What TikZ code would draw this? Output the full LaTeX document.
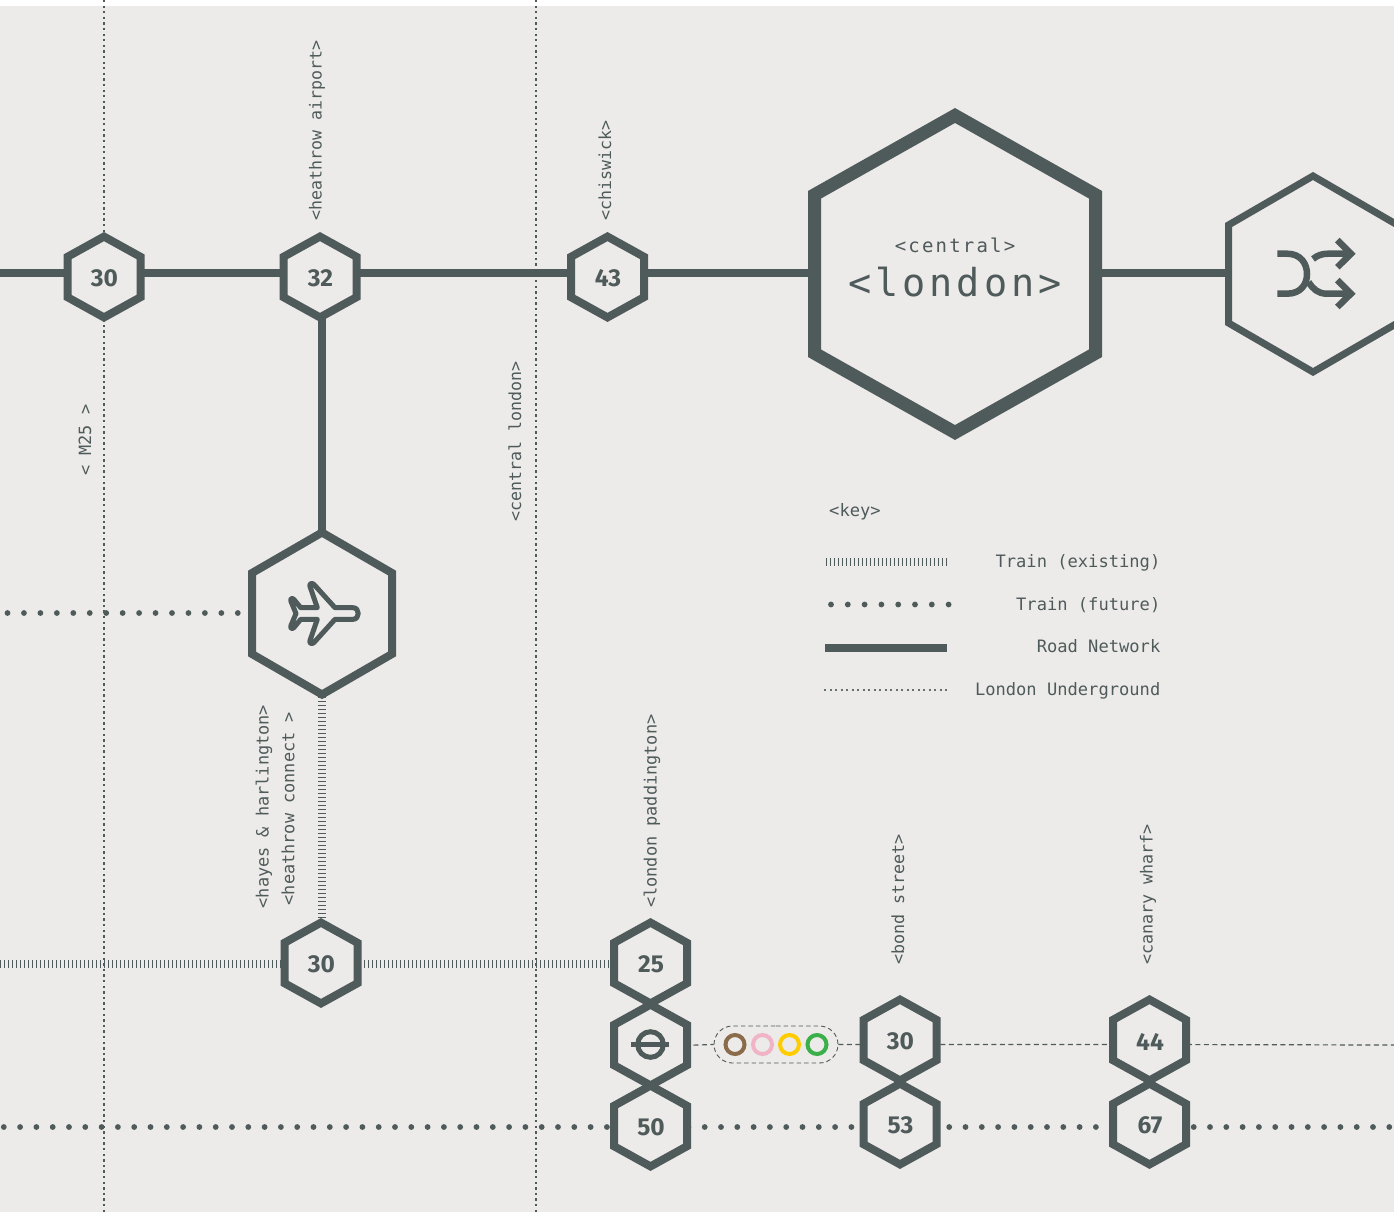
\documentclass[tikz,border=0pt]{standalone}
\usepackage{fontspec}
\setmonofont{DejaVu Sans Mono}
\newfontfamily\numfont{Fira Sans}
\usetikzlibrary{backgrounds,shapes.misc}
\definecolor{roadGrey}{HTML}{4F5A5B}
\definecolor{paperGrey}{HTML}{ECEBE9}
\definecolor{ringBrown}{HTML}{8A6B4A}
\definecolor{ringPink}{HTML}{F0B4C6}
\definecolor{ringYellow}{HTML}{FFCC00}
\definecolor{ringGreen}{HTML}{3BAF49}
\tikzset{
    x=1pt, y=-1pt,
    hexline/.style={draw=roadGrey, fill=paperGrey, line join=miter, miter limit=10},
    hexnum/.style={inner sep=0pt, text=roadGrey, font=\numfont\bfseries\fontsize{24.5}{24}\selectfont},
    road/.style={draw=roadGrey, line width=8pt},
    trainold/.style={draw=roadGrey, line width=8pt, dash pattern=on 1.2pt off 2.8pt},
    trainnew/.style={draw=roadGrey, line width=5.8pt, line cap=round, dash pattern=on 0pt off 16.3pt},
    tube/.style={draw=roadGrey, line width=2.3pt, dash pattern=on 2.3pt off 3.3pt},
    link/.style={draw=roadGrey, line width=1.2pt, dash pattern=on 5pt off 3.5pt},
    stationlabel/.style={rotate=90, anchor=west, inner sep=0pt, text=roadGrey, font=\ttfamily\fontsize{#1}{17}\selectfont},
    stationlabel/.default=16.9,
    keylabel/.style={anchor=base east, inner sep=0pt, text=roadGrey, font=\ttfamily\fontsize{17.1}{17}\selectfont},
    ring/.style={circle, draw=#1, line width=4pt, minimum size=19pt, inner sep=0pt},
}
% hexagon: name, x, y, half width, half height, line width, text
\newcommand\hexa[7]{
    \path[hexline, line width=#6pt, shift={(#2,#3)}]
        (0,-#5) -- (#4,-#5/2) -- (#4,#5/2) -- (0,#5) -- (-#4,#5/2) -- (-#4,-#5/2) -- cycle;
    \node[hexnum] (#1) at (#2+0.5,#3+1.5) {#7};
}
\begin{document}
\begin{tikzpicture}
    \useasboundingbox (0,0) rectangle (1394,1212);

    % stations
    \hexa{jthirty}{104}{277}{36.5}{40.4}{8}{30}
    \hexa{jthirtytwo}{320}{277}{36.5}{40.4}{8}{32}
    \hexa{jfortythree}{607.5}{277}{36.5}{40.4}{8}{43}
    \hexa{central}{955}{274}{140.5}{158.5}{13}{}
    \hexa{shuffle}{1313}{274}{84.5}{98}{7}{}
    \hexa{airport}{322}{613.5}{70}{81}{8}{}
    \hexa{hayes}{321}{963}{36.5}{40.4}{8}{30}
    \hexa{paddington}{650.5}{963}{36.5}{40.4}{8}{25}
    \hexa{tube}{650.5}{1045}{36.5}{40.4}{8}{}
    \hexa{paddfuture}{650.5}{1126}{36.5}{40.4}{8}{50}
    \hexa{bond}{900}{1040}{36.5}{40.4}{8}{30}
    \hexa{bondfuture}{900}{1124}{36.5}{40.4}{8}{53}
    \hexa{canary}{1149.5}{1040}{36.5}{40.4}{8}{44}
    \hexa{canaryfuture}{1149.5}{1124}{36.5}{40.4}{8}{67}

    % oyster rings
    \node[rounded rectangle, draw=roadGrey, line width=0.9pt, dash pattern=on 4.5pt off 3pt, minimum width=124pt, minimum height=37pt, inner sep=0pt] (oyster) at (776,1044.5) {};
    \node[ring=ringBrown] (rbrown) at (735,1044.5) {};
    \node[ring=ringPink] (rpink) at (762.5,1044.5) {};
    \node[ring=ringYellow] (ryellow) at (789.5,1044.5) {};
    \node[ring=ringGreen] (rgreen) at (817,1044.5) {};

    % free ends
    \coordinate (roadstart) at (0,272.7);
    \coordinate (planestart) at (7.5,613);
    \coordinate (planetop) at (322,277);
    \coordinate (planemid) at (322,613);
    \coordinate (planebot) at (322,963);
    \coordinate (oldstart) at (0,963.5);
    \coordinate (newstart) at (3.8,1127);
    \coordinate (linkend) at (1394,1045);
    \coordinate (mtop) at (104,0);
    \coordinate (mbot) at (104,1212);
    \coordinate (ctop) at (536,0);
    \coordinate (cbot) at (536,1212);

    \begin{pgfonlayer}{background}
        \fill[white] (0,0) rectangle (1394,6);
        \fill[paperGrey] (0,6) rectangle (1394,1212);
        \draw[tube] (mtop) -- (mbot);
        \draw[tube] (ctop) -- (cbot);
        \draw[road] (roadstart) -- (jthirty.center |- roadstart) -- (jthirtytwo.center |- roadstart)
            -- (jfortythree.center |- roadstart) -- (central.center |- roadstart) -- (shuffle.center |- roadstart);
        \draw[road] (planetop) -- (planemid);
        \draw[trainnew, dash pattern=on 0pt off 16.45pt] (planestart) -- (planemid);
        \draw[trainold] (planemid) -- (planebot);
        \draw[trainold] (oldstart) -- (paddington.center |- oldstart);
        \draw[trainnew] (newstart) -- (canaryfuture.center |- newstart) -- (1394,1127);
        \draw[link] (tube.center) -- (oyster.west);
        \draw[link] (oyster.east) -- (bond.center |- oyster.east) -- (canary.center |- oyster.east) -- (linkend);
    \end{pgfonlayer}

    % icons
    \draw[roadGrey, line width=5pt, line cap=round, line join=round, shift={(322,613.5)}]
        (13,-5.8) -- (-8,-29) .. controls (-10,-31) and (-13,-30) .. (-12,-27) -- (-4.7,-5.8) -- (-21.3,-5.8)
        -- (-28,-14) .. controls (-30,-16) and (-32,-15) .. (-31,-12) -- (-26,0) -- (-31,12)
        .. controls (-32,15) and (-30,16) .. (-28,14) -- (-21.3,5.8) -- (-4.7,5.8) -- (-12,27)
        .. controls (-13,30) and (-10,31) .. (-8,29) -- (13,5.8) -- (31,5.8)
        .. controls (38,5.8) and (38,-5.8) .. (31,-5.8) -- cycle;
    \draw[roadGrey, line width=6.5pt, shift={(1313,274)}]
        (-35.7,-20.3) -- (-26,-20.3) .. controls (-12,-20.3) and (-6,-10) .. (-6,0)
        .. controls (-6,10) and (-12,19.7) .. (-26,19.7) -- (-35.7,19.7);
    \draw[roadGrey, line width=6.5pt, shift={(1313,274)}]
        (-4.5,8) .. controls (0,15) and (5,19.7) .. (14,19.7) -- (38,19.7);
    \draw[roadGrey, line width=6.5pt, shift={(1313,274)}]
        (0,-15) .. controls (4,-18.5) and (9,-20.3) .. (15,-20.3) -- (38,-20.3);
    \draw[roadGrey, line width=6.5pt, shift={(1313,274)}] (24.3,-34) -- (38,-20.3) -- (24.3,-6.7);
    \draw[roadGrey, line width=6.5pt, shift={(1313,274)}] (24.3,6) -- (38,19.7) -- (24.3,33);
    \draw[roadGrey, line width=5pt] (650.5,1044.5) circle (12.8);
    \draw[roadGrey, line width=4.5pt] (631,1044.5) -- (669,1044.5);

    % central text
    \node[inner sep=0pt, text=roadGrey, font=\ttfamily\fontsize{19}{19}\selectfont] (ctext) at (955,245) {\addfontfeatures{LetterSpace=11.5}<central>};
    \node[inner sep=0pt, text=roadGrey, font=\ttfamily\fontsize{38.5}{39}\selectfont] (ltext) at (955,282) {\addfontfeatures{LetterSpace=10.5}<london>};

    % labels
    \node[stationlabel=16.6] (lheathrow) at (317,220.5) {<heathrow airport>};
    \node[stationlabel=16.6] (lchiswick) at (605,220.5) {<chiswick>};
    \node[stationlabel=16.6] (lcentral) at (515,521.5) {<central london>};
    \node[stationlabel] (lmtf) at (85,476) {< M25 >};
    \node[stationlabel] (lhayes) at (264,908.5) {<hayes \& harlington>};
    \node[stationlabel] (lconnect) at (288,905.5) {<heathrow connect >};
    \node[stationlabel] (lpadd) at (652,908) {<london paddington>};
    \node[stationlabel=16.7] (lbond) at (898,965) {<bond street>};
    \node[stationlabel=16.7] (lcanary) at (1148,965) {<canary wharf>};

    % key
    \node[keylabel, anchor=base west] (lkey) at (829,516) {<key>};
    \node[keylabel] (kold) at (1160.5,567.3) {Train (existing)};
    \node[keylabel] (knew) at (1160.5,610.3) {Train (future)};
    \node[keylabel] (kroad) at (1160.5,652.3) {Road Network};
    \node[keylabel] (ktube) at (1160.5,695) {London Underground};
    \coordinate (koldend) at (826,562);
    \coordinate (knewend) at (831,604.5);
    \coordinate (kroadend) at (825,647.5);
    \coordinate (ktubeend) at (824,690);
    \draw[trainold] (koldend) -- (949,562);
    \draw[trainnew, dash pattern=on 0pt off 16.8pt] (knewend) -- (949,604.5);
    \draw[road] (kroadend) -- (947,647.5);
    \draw[draw=roadGrey!85!paperGrey, line width=2pt, dash pattern=on 2pt off 3.5pt] (ktubeend) -- (950,690);
\end{tikzpicture}
\end{document}
